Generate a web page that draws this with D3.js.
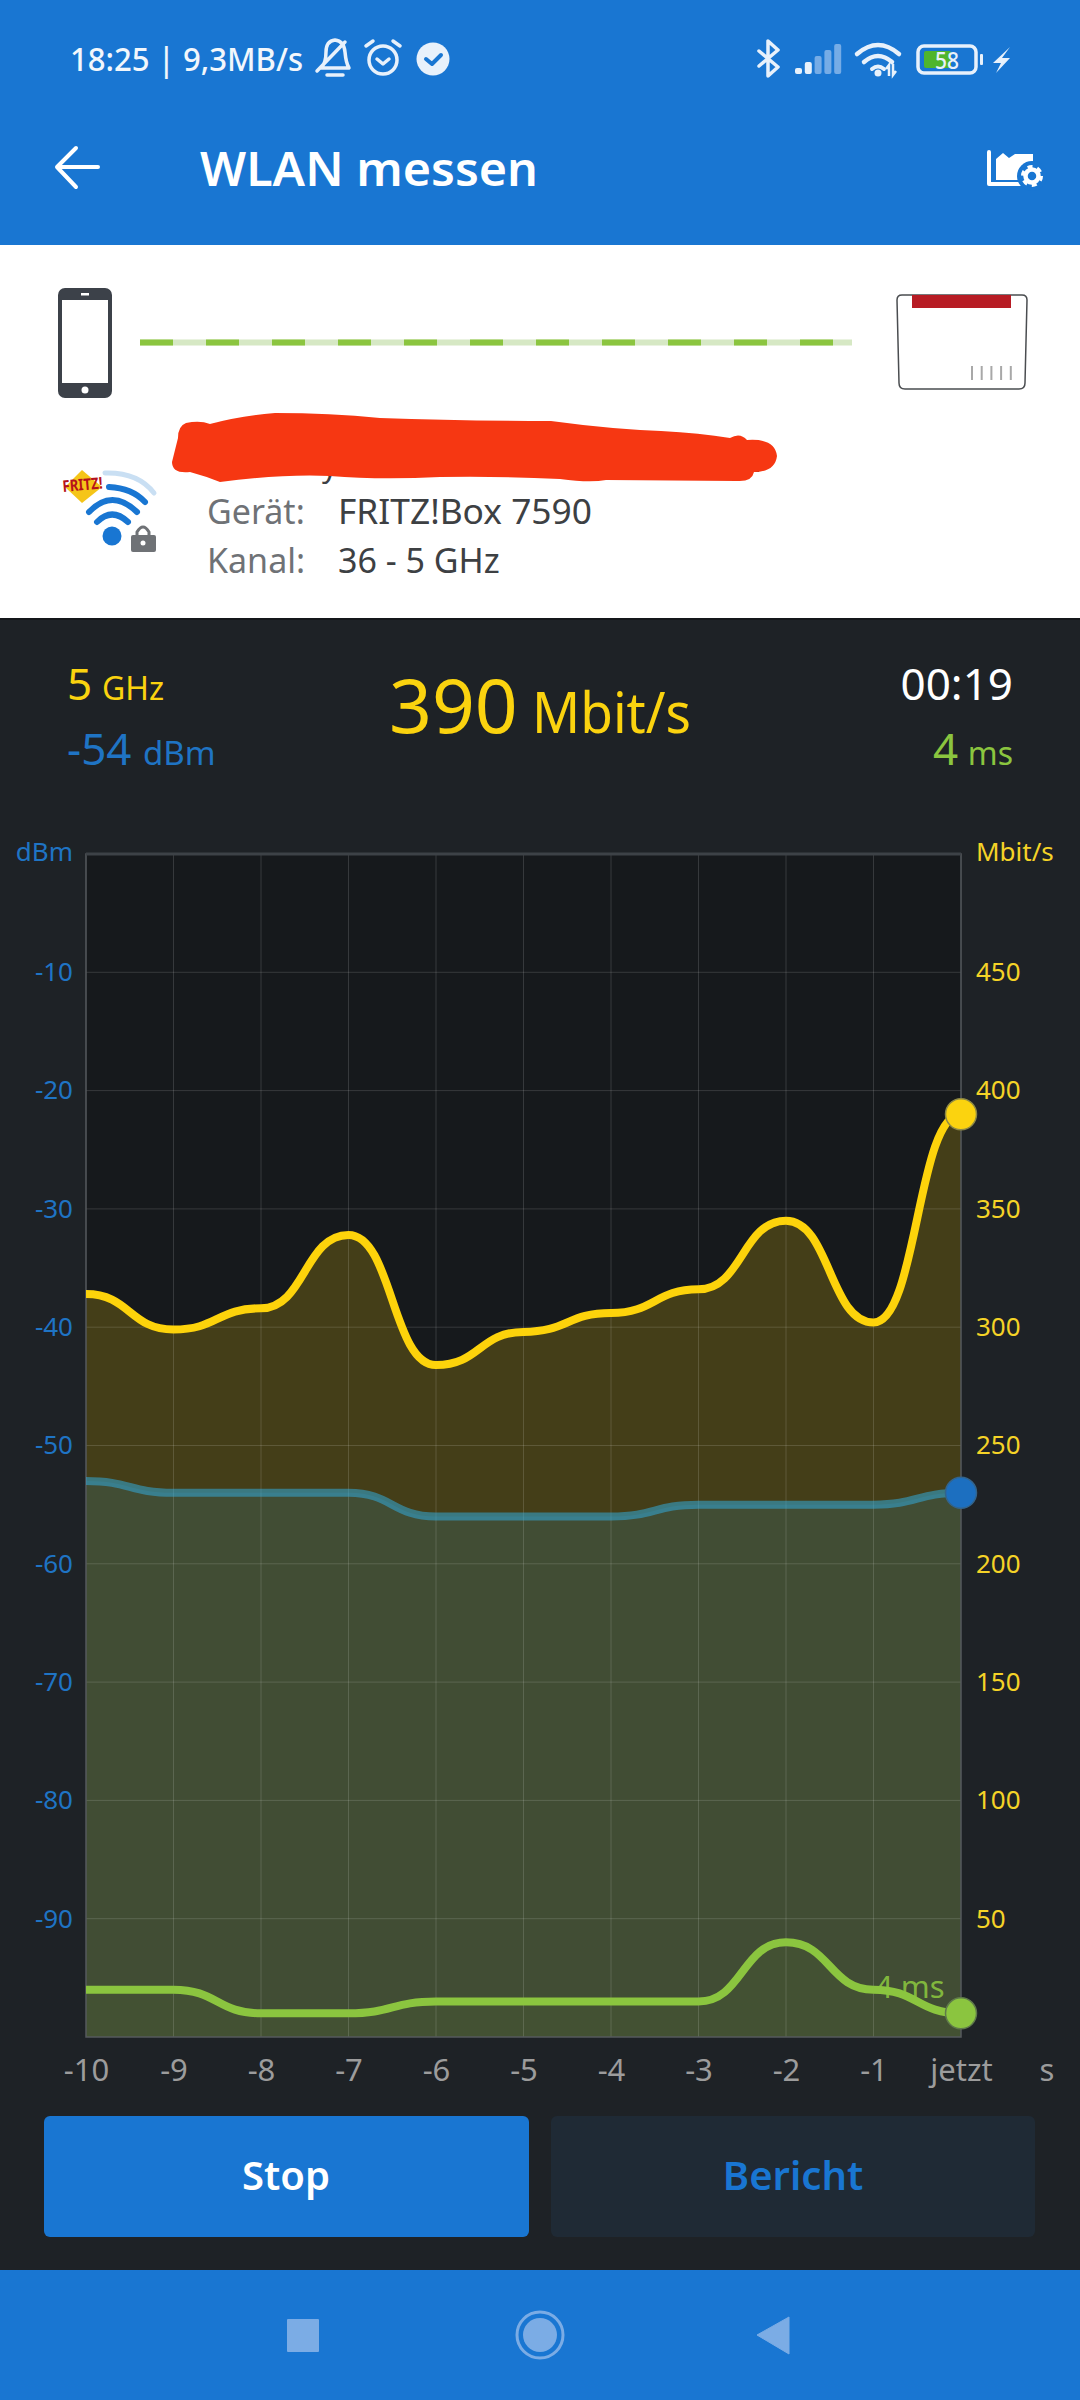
<!DOCTYPE html>
<html>
<head>
<meta charset="utf-8">
<script src="https://cdn.jsdelivr.net/npm/d3@7"></script>
<style>
  html, body { margin: 0; padding: 0; background: #1e2226; }
  svg { display: block; }
  text { font-family: "Noto Sans", sans-serif; }
</style>
</head>
<body>
<div id="graph"></div>
<script>
// chart data
const seconds = [-10, -9, -8, -7, -6, -5, -4, -3, -2, -1, 0];
const xLabels = ['-10', '-9', '-8', '-7', '-6', '-5', '-4', '-3', '-2', '-1', 'jetzt'];
const mbits = [314, 299, 308, 339, 284, 298, 306, 316, 345, 302, 390];
const dbm = [-53, -54, -54, -54, -56, -56, -56, -55, -55, -55, -54];
const latency = [8, 8, 4, 4, 6, 6, 6, 6, 16, 8, 4];
const dbmTicks = [-10, -20, -30, -40, -50, -60, -70, -80, -90];
const mbitTicks = [50, 100, 150, 200, 250, 300, 350, 400, 450];

const BLUE = '#1976d2', YELLOW = '#fbd30f', SIGNAL = '#1f74c4', GREEN = '#8bc53f', ICON = '#e8f1fb';

const width = 1080, height = 2400;
const plot = { left: 86, right: 961, top: 854, bottom: 2037 };

const svg = d3.select('#graph').append('svg').attr('width', width).attr('height', height);

function label(g, x, y, str, size, fill, anchor, weight) {
    return g.append('text').attr('x', x).attr('y', y).text(str)
        .attr('font-size', size).attr('fill', fill)
        .attr('text-anchor', anchor || 'start').attr('font-weight', weight || 400);
}

function squeeze(sel, len) {
    return sel.attr('textLength', len).attr('lengthAdjust', 'spacingAndGlyphs');
}

function stroke(g, d, color, w) {
    return g.append('path').attr('d', d).attr('fill', 'none').attr('stroke', color).attr('stroke-width', w)
        .attr('stroke-linecap', 'round').attr('stroke-linejoin', 'round');
}

// page blocks
svg.append('rect').attr('width', width).attr('height', height).attr('fill', '#1e2226');
svg.append('rect').attr('width', width).attr('height', 245).attr('fill', BLUE);
svg.append('rect').attr('y', 245).attr('width', width).attr('height', 373).attr('fill', '#fff');
svg.append('rect').attr('y', 2270).attr('width', width).attr('height', 130).attr('fill', BLUE);

// status bar
const status = svg.append('g');
squeeze(label(status, 70, 71, '18:25 | 9,3MB/s', 32, '#f2f7fc', 'start', 500), 233);
stroke(status, 'M321 68 q5 -5 5 -16 q0 -11 9 -12 q9 1 10 12 q1 11 4 16 z M327 75 h16 M317 71 L345 42', ICON, 3.5);
status.append('circle').attr('cx', 383).attr('cy', 60).attr('r', 14).attr('fill', 'none').attr('stroke', ICON).attr('stroke-width', 3.5);
stroke(status, 'M377 59 l6 5 l6 -5 M366 46 l7 -5 M400 46 l-7 -5', ICON, 3.5);
status.append('circle').attr('cx', 433).attr('cy', 59).attr('r', 16.5).attr('fill', ICON);
stroke(status, 'M426 59 l6 5 l9 -9', BLUE, 4);

stroke(status, 'M759 66 L778 50 L768 41 V76 L778 67 L759 51', ICON, 3.5);
[0, 1, 2, 3, 4].forEach((i) => {
    status.append('rect').attr('x', 795 + i * 9.8).attr('y', 68 - i * 6).attr('width', 7).attr('height', 6 + i * 6).attr('rx', 2)
        .attr('fill', i < 2 ? ICON : '#76ace6');
});
stroke(status, 'M857 54 Q878 36 899 54 M864 62 Q878 50 892 62', ICON, 4.5);
stroke(status, 'M872 69 Q878 64 884 69', ICON, 4);
status.append('circle').attr('cx', 878).attr('cy', 73).attr('r', 3.5).attr('fill', ICON);
status.append('path').attr('d', 'M889 76 v-11 l-3 4 M893 64 v11 l3 -4').attr('fill', 'none').attr('stroke', ICON).attr('stroke-width', 2.5);
status.append('rect').attr('x', 918).attr('y', 46).attr('width', 58).attr('height', 27).attr('rx', 6).attr('fill', 'none').attr('stroke', ICON).attr('stroke-width', 3.5);
status.append('rect').attr('x', 924).attr('y', 51).attr('width', 27).attr('height', 17).attr('rx', 2).attr('fill', '#4fb52c');
status.append('rect').attr('x', 980).attr('y', 54).attr('width', 3).attr('height', 11).attr('rx', 1).attr('fill', ICON);
squeeze(label(status, 947, 69, '58', 23, ICON, 'middle', 500), 24);
status.append('path').attr('d', 'M1010 47 L993 63 H1001 L996 73 L1010 58 H1002 Z').attr('fill', ICON);

// app bar
const bar = svg.append('g');
stroke(bar, 'M98 167 H58 M76 148 L57 167 L76 187', '#fff', 4);
squeeze(label(bar, 200, 186, 'WLAN messen', 47, '#fff', 'start', 600), 338);
stroke(bar, 'M989 152 V184 H1020', '#fff', 4);
bar.append('path').attr('d', 'M996 180 V159 L1003 153 L1009 158 L1015 154 L1033 154 V180 Z').attr('fill', '#fff');
bar.append('circle').attr('cx', 1032).attr('cy', 176).attr('r', 15).attr('fill', BLUE);
bar.append('circle').attr('cx', 1032).attr('cy', 176).attr('r', 6.5).attr('fill', 'none').attr('stroke', '#fff').attr('stroke-width', 4.5);
bar.append('circle').attr('cx', 1032).attr('cy', 176).attr('r', 9.5).attr('fill', 'none').attr('stroke', '#fff').attr('stroke-width', 3).attr('stroke-dasharray', '5 5');

// link diagram
const phone = svg.append('g');
phone.append('rect').attr('x', 58).attr('y', 288).attr('width', 54).attr('height', 110).attr('rx', 7).attr('fill', '#3c4149');
phone.append('rect').attr('x', 62).attr('y', 300).attr('width', 46).attr('height', 83).attr('fill', '#fff');
phone.append('rect').attr('x', 81).attr('y', 293).attr('width', 8).attr('height', 2.5).attr('fill', '#fff');
phone.append('circle').attr('cx', 85).attr('cy', 390).attr('r', 3.5).attr('fill', '#fff');

svg.append('line').attr('x1', 140).attr('x2', 852).attr('y1', 342.5).attr('y2', 342.5)
    .attr('stroke', '#d6e8c4').attr('stroke-width', 6);
svg.append('line').attr('x1', 140).attr('x2', 852).attr('y1', 342.5).attr('y2', 342.5)
    .attr('stroke', GREEN).attr('stroke-width', 6).attr('stroke-dasharray', '33 33');

const router = svg.append('g');
router.append('path').attr('d', 'M902 295 H1022 Q1027 295 1027 300 L1025 383 Q1025 389 1019 389 H905 Q899 389 899 383 L897 300 Q897 295 902 295 Z')
    .attr('fill', '#fff').attr('stroke', '#4a4d50').attr('stroke-width', 1.5);
router.append('rect').attr('x', 912).attr('y', 295).attr('width', 99).attr('height', 13).attr('fill', '#b71c24');
[0, 1, 2, 3, 4].forEach((i) => {
    router.append('rect').attr('x', 971 + i * 9.7).attr('y', 366).attr('width', 2).attr('height', 14).attr('fill', '#a8a8a8');
});

// network info, the name is scribbled out in the original
const info = svg.append('g');
label(info, 322, 477, 'y', 30, '#3d4043');
info.append('rect').attr('x', 750).attr('y', 470).attr('width', 9).attr('height', 2).attr('fill', '#3d4043');
info.append('path').attr('fill', '#f63712')
    .attr('d', 'M186 423 Q200 420 210 424 Q240 416 275 413 Q330 413 380 418 Q460 421 551 421 Q610 429 661 431 Q700 433 730 438 Q740 432 747 440 Q775 438 777 456 Q775 472 754 472 Q752 482 737 481 L606 480 Q590 483 560 479 Q500 476 440 477 Q380 480 330 476 Q280 474 220 482 Q205 476 190 472 Q172 474 172 462 Q176 446 178 438 Q178 426 186 423 Z');
label(info, 207, 524, 'Gerät:', 34, '#6f7276');
squeeze(label(info, 338, 524, 'FRITZ!Box 7590', 34, '#3d4043'), 254);
label(info, 207, 573, 'Kanal:', 34, '#6f7276');
label(info, 338, 573, '36 - 5 GHz', 34, '#3d4043');

const logo = svg.append('g');
stroke(logo, 'M105 473 Q138 472 154 493', '#c9dff3', 5);
stroke(logo, 'M109 487 Q132 488 145 502', BLUE, 6);
stroke(logo, 'M89 512 Q112 488 137 512', BLUE, 6);
stroke(logo, 'M97 522 Q112 507 128 522', BLUE, 6);
logo.append('path').attr('d', 'M82 470 L102 487 L82 503 L65 487 Z').attr('fill', '#f5c518');
squeeze(label(logo, 63, 492, 'FRITZ!', 16, '#b5121b', 'start', 700), 40).attr('transform', 'rotate(-5 63 492)');
logo.append('circle').attr('cx', 112).attr('cy', 536).attr('r', 9.5).attr('fill', BLUE);
logo.append('rect').attr('x', 131).attr('y', 535).attr('width', 25).attr('height', 17).attr('rx', 2).attr('fill', '#6f7276');
stroke(logo, 'M137 536 v-4 q6 -10 12 0 v4', '#6f7276', 3);
logo.append('circle').attr('cx', 143).attr('cy', 543).attr('r', 2.5).attr('fill', '#fff');

// dark panel top edge
svg.append('rect').attr('y', 618).attr('width', width).attr('height', 2).attr('fill', '#14171a');

// live readouts
const read = svg.append('g');
label(read, 67, 700, '5', 44, YELLOW);
label(read, 102, 700, 'GHz', 32, YELLOW);
label(read, 67, 765, '-54', 44, SIGNAL);
label(read, 143, 765, 'dBm', 33, SIGNAL);
label(read, 389, 733, '390', 75, YELLOW);
squeeze(label(read, 532, 733, 'Mbit/s', 56, YELLOW), 159);
label(read, 1013, 700, '00:19', 44, '#fff', 'end');
label(read, 933, 765, '4', 44, GREEN);
label(read, 1013, 765, 'ms', 32, GREEN, 'end');

// scales
const x = d3.scaleLinear().domain([-10, 0]).range([plot.left, plot.right]);
const yDbm = d3.scaleLinear().domain([-100, 0]).range([plot.bottom, plot.top]);
const yMbit = d3.scaleLinear().domain([0, 500]).range([plot.bottom, plot.top]);
const yLat = d3.scaleLinear().domain([0, 200]).range([plot.bottom, plot.top]);

const chart = svg.append('g');
chart.append('rect').attr('x', plot.left).attr('y', plot.top)
    .attr('width', plot.right - plot.left).attr('height', plot.bottom - plot.top).attr('fill', '#16191c');

function series(values, y, color, fillOpacity, lineOpacity) {
    const rows = seconds.map((s, i) => [s, values[i]]);
    const area = d3.area().curve(d3.curveBumpX).x((d) => x(d[0])).y0(plot.bottom).y1((d) => y(d[1]));
    const line = d3.line().curve(d3.curveBumpX).x((d) => x(d[0])).y((d) => y(d[1]));
    chart.append('path').datum(rows).attr('d', area).attr('fill', color).attr('fill-opacity', fillOpacity);
    return () => chart.append('path').datum(rows).attr('d', line).attr('fill', 'none')
        .attr('stroke', color).attr('stroke-width', 8).attr('stroke-opacity', lineOpacity);
}

const drawMbit = series(mbits, yMbit, '#fdd30b', 0.2, 1);
const drawDbm = series(dbm, yDbm, '#33aad9', 0.15, 0.55);
const drawLat = series(latency, yLat, GREEN, 0.04, 1);

// grid on top of the fills
const gridG = chart.append('g').attr('stroke', '#fff').attr('stroke-opacity', 0.14).attr('stroke-width', 1);
dbmTicks.forEach((t) => {
    gridG.append('line').attr('x1', plot.left).attr('x2', plot.right).attr('y1', yDbm(t)).attr('y2', yDbm(t));
});
seconds.slice(1, -1).forEach((s) => {
    gridG.append('line').attr('x1', x(s)).attr('x2', x(s)).attr('y1', plot.top).attr('y2', plot.bottom);
});
chart.append('rect').attr('x', plot.left).attr('y', plot.top)
    .attr('width', plot.right - plot.left).attr('height', plot.bottom - plot.top)
    .attr('fill', 'none').attr('stroke', '#555a5e').attr('stroke-width', 1.5);
chart.append('line').attr('x1', plot.left).attr('x2', plot.right).attr('y1', plot.top).attr('y2', plot.top)
    .attr('stroke', '#3d4247').attr('stroke-width', 3);

drawMbit();
drawDbm();
drawLat();

// axes
function styleAxis(g, color, size) {
    g.select('.domain').remove();
    g.selectAll('.tick line').remove();
    g.selectAll('.tick text').attr('fill', color).attr('font-size', size).attr('font-family', '"Noto Sans", sans-serif');
}
svg.append('g').attr('transform', `translate(${plot.left},0)`)
    .call(d3.axisLeft(yDbm).tickValues(dbmTicks).tickFormat((d) => String(d)).tickSize(0).tickPadding(13))
    .call(styleAxis, SIGNAL, 26);
svg.append('g').attr('transform', `translate(${plot.right},0)`)
    .call(d3.axisRight(yMbit).tickValues(mbitTicks).tickSize(0).tickPadding(15))
    .call(styleAxis, '#f5d327', 26);
svg.append('g').attr('transform', `translate(0,${plot.bottom})`)
    .call(d3.axisBottom(x).tickValues(seconds).tickFormat((d, i) => xLabels[i]).tickSize(0).tickPadding(22))
    .call(styleAxis, '#9c9c9c', 31);
label(svg, 73, 861, 'dBm', 26, SIGNAL, 'end');
label(svg, 976, 861, 'Mbit/s', 26, '#f5d327');
label(svg, 1047, 2081, 's', 31, '#9c9c9c', 'middle');

// latest value markers
label(chart, 875, 1998, '4 ms', 31, GREEN).attr('fill-opacity', 0.9);
const last = seconds.length - 1;
[[yMbit(mbits[last]), '#fbd30f', '#8f8a45'], [yDbm(dbm[last]), '#1c6fc0', '#33648c'], [yLat(latency[last]), GREEN, '#5f7a4a']].forEach((m) => {
    chart.append('circle').attr('cx', x(seconds[last])).attr('cy', m[0]).attr('r', 15.5)
        .attr('fill', m[1]).attr('stroke', m[2]).attr('stroke-width', 1.5);
});

// buttons
svg.append('rect').attr('x', 44).attr('y', 2116).attr('width', 485).attr('height', 121).attr('rx', 6).attr('fill', BLUE);
svg.append('rect').attr('x', 551).attr('y', 2116).attr('width', 484).attr('height', 121).attr('rx', 6).attr('fill', '#1f2a35');
label(svg, 286, 2190, 'Stop', 40, '#fff', 'middle', 600);
label(svg, 793, 2190, 'Bericht', 40, BLUE, 'middle', 600);

// android nav bar
const nav = svg.append('g').attr('fill', '#7bace5');
nav.append('rect').attr('x', 287).attr('y', 2319).attr('width', 32).attr('height', 33).attr('rx', 1);
nav.append('circle').attr('cx', 540).attr('cy', 2335).attr('r', 17);
nav.append('circle').attr('cx', 540).attr('cy', 2335).attr('r', 23).attr('fill', 'none').attr('stroke', '#7bace5').attr('stroke-width', 3);
nav.append('path').attr('d', 'M789 2317 V2354 L757 2335 Z').attr('stroke', '#7bace5').attr('stroke-width', 1).attr('stroke-linejoin', 'round');
</script>
</body>
</html>
